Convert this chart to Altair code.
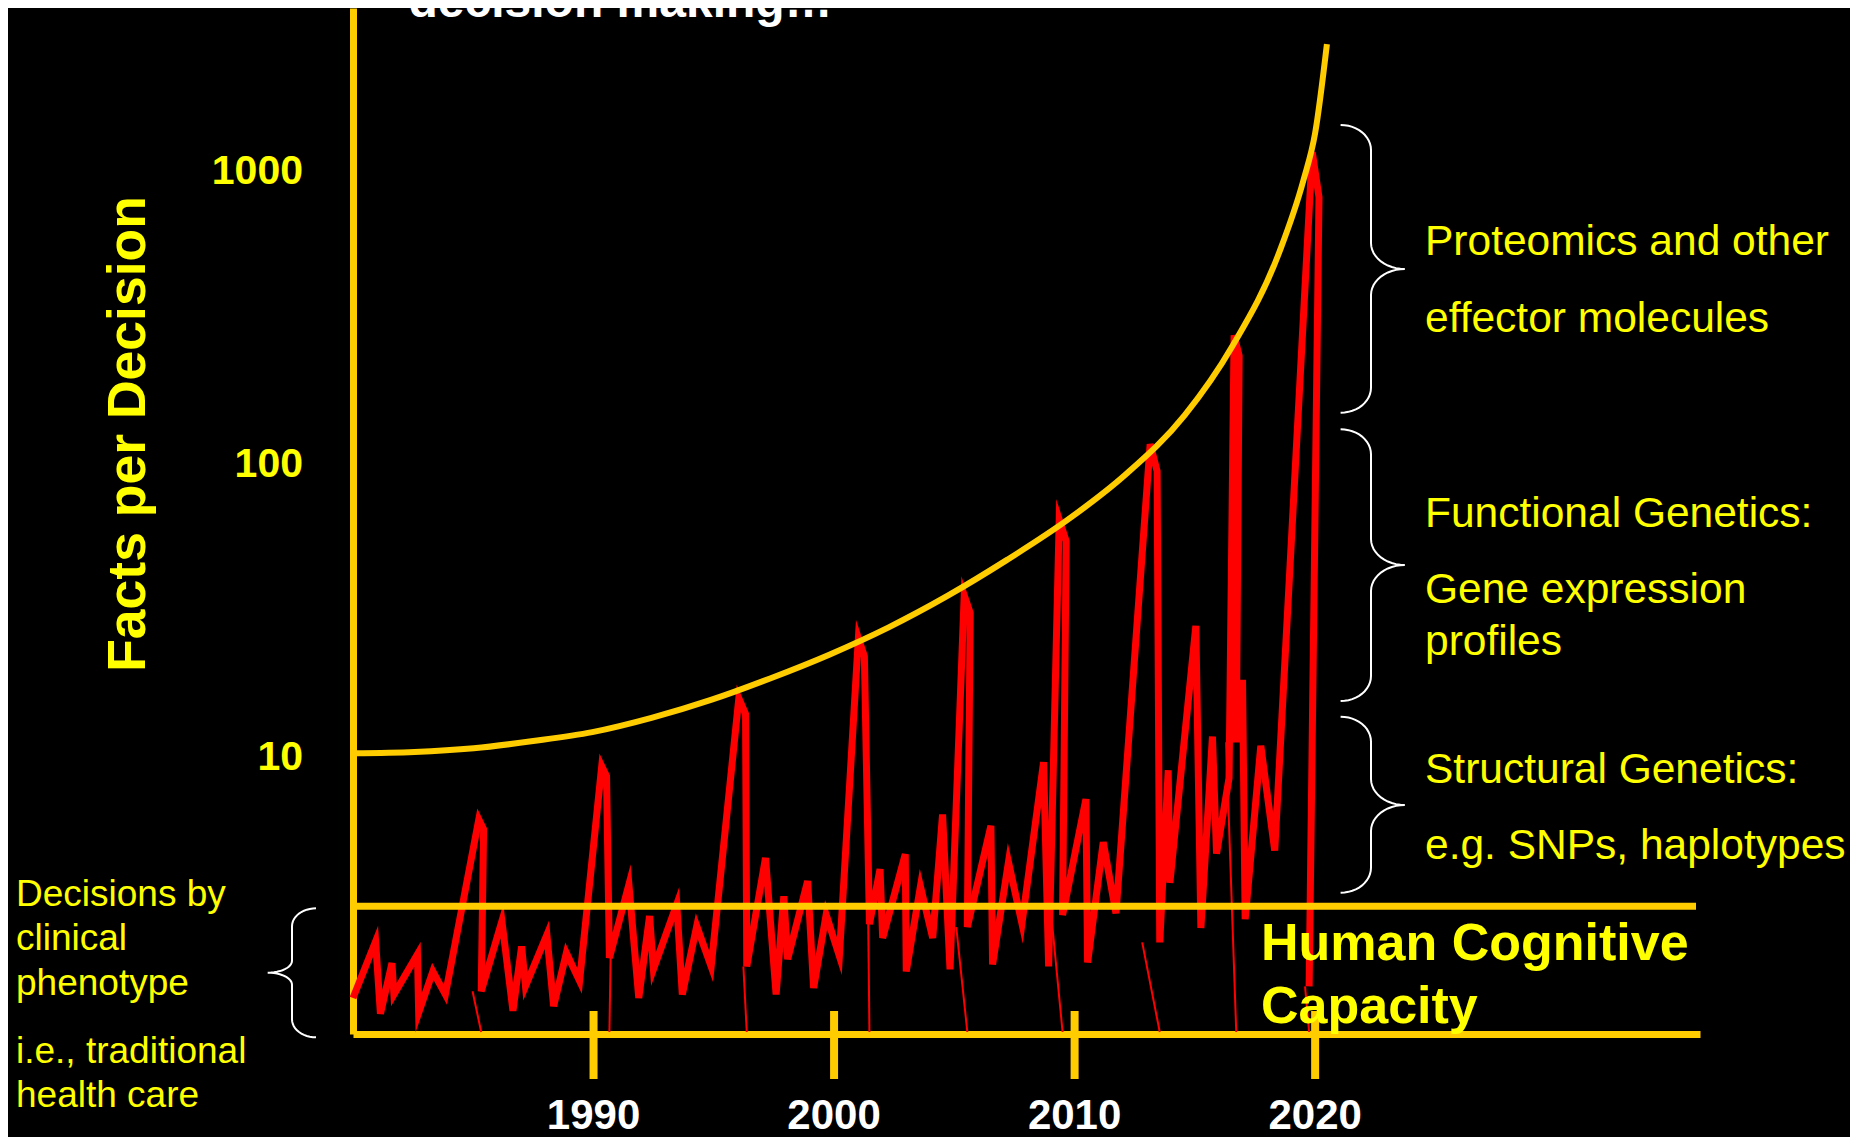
import math
import altair as alt
import pandas as pd

# ---------------- data ----------------
red_year = [1980.00, 1980.94, 1981.14, 1981.62, 1981.70, 1982.68, 1982.73, 1983.32, 1983.84,
            1985.23, 1985.43, 1985.33, 1986.19, 1986.65, 1987.01, 1987.17, 1988.06, 1988.34,
            1988.87, 1989.42, 1990.34, 1990.54, 1990.66, 1991.47, 1991.88, 1992.33, 1992.49,
            1993.46, 1993.69, 1994.29, 1994.89, 1996.04, 1996.32, 1996.37, 1997.15, 1997.59,
            1997.91, 1998.07, 1998.90, 1999.15, 1999.67, 2000.22, 2001.01, 2001.26, 2001.47,
            2001.91, 2002.02, 2002.96, 2003.00, 2003.59, 2004.10, 2004.51, 2004.82, 2005.41,
            2005.66, 2005.54, 2006.52, 2006.59, 2007.25, 2007.81, 2008.71, 2008.92, 2009.36,
            2009.65, 2009.50, 2010.47, 2010.54, 2011.19, 2011.72, 2013.14, 2013.43, 2013.54,
            2013.89, 2013.96, 2015.04, 2015.25, 2015.73, 2015.90, 2016.42, 2016.63, 2016.84,
            2016.72, 2016.98, 2017.09, 2017.74, 2018.32, 2019.88, 2020.16, 2019.75]
red_value = [1.46, 2.28, 1.29, 1.92, 1.50, 2.06, 1.30, 1.80, 1.50,
             5.94, 5.50, 1.54, 2.67, 1.32, 2.19, 1.60, 2.40, 1.37,
             2.08, 1.67, 9.03, 8.35, 2.00, 3.56, 1.46, 2.78, 1.83,
             3.05, 1.50, 2.57, 1.87, 15.4, 13.6, 1.87, 4.39, 1.50,
             3.25, 1.98, 3.66, 1.58, 2.81, 2.03, 24.7, 21.4, 2.61,
             4.02, 2.34, 4.52, 1.80, 3.51, 2.34, 6.18, 1.83, 34.6,
             30.1, 2.55, 5.65, 1.90, 4.25, 2.62, 9.32, 1.87, 62.7,
             52.9, 2.80, 6.97, 1.93, 4.97, 2.84, 113.5, 91.8, 2.26,
             8.75, 3.61, 27.2, 2.53, 11.4, 4.54, 8.22, 267, 227,
             10.9, 17.8, 2.71, 10.6, 4.65, 1127, 791, 1.6]
assert len(red_year) == len(red_value)

# thin tails of the red spikes (bottom year -> top point)
tail_bottom_year = [1984.97, 1990.71, 1996.23, 2001.42, 2005.08, 2009.03, 2012.81, 2016.30, 2019.58]
tail_top_year = [1985.33, 1990.66, 1996.37, 2001.47, 2005.54, 2009.50, 2013.54, 2016.72, 2019.75]
tail_top_value = [1.54, 2.00, 1.87, 2.61, 2.55, 2.80, 2.26, 10.9, 1.6]

# yellow "facts per decision" curve
curve_year = [1980.0, 1982.56, 1985.02, 1987.49, 1989.95, 1992.41, 1994.88, 1997.34, 1999.80,
              2002.27, 2004.73, 2007.19, 2009.66, 2012.12, 2014.58, 2016.55, 2018.52, 2019.51,
              2020.0, 2020.49]
curve_value = [10.0, 10.1, 10.4, 11.0, 11.8, 13.2, 15.2, 18.0, 21.7,
               26.9, 34.5, 45.7, 62.2, 89.4, 142.6, 244.6, 516, 902,
               1309, 2636]

capacity_level = [3.0]
tick_years = [1990, 2000, 2010, 2020]
tick_labels = ["1990", "2000", "2010", "2020"]
y_label_values = [10, 100, 1000]
y_labels = ["10", "100", "1000"]

title_top = "decision making\u2026"
y_title = "Facts per Decision"
left_lines_1 = ["Decisions by", "clinical", "phenotype"]
left_lines_2 = ["i.e., traditional", "health care"]
right_lines_1 = ["Proteomics and other", "effector molecules"]
right_lines_2a = ["Functional Genetics:"]
right_lines_2b = ["Gene expression", "profiles"]
right_lines_3 = ["Structural Genetics:", "e.g. SNPs, haplotypes"]
capacity_lines = ["Human Cognitive", "Capacity"]

# ---------------- layout / style ----------------
W, H = 1347, 1026
GOLD = "#FFCC00"
YELLOW = "#FFFF00"
RED = "#FF0000"
FONT = "Liberation Sans"

xs = alt.Scale(domain=[1980, 2036], nice=False, zero=False)
ys = alt.Scale(type="log", domain=[1.1, 3500], nice=False)

red_df = pd.DataFrame({"year": red_year, "value": red_value, "ord": list(range(len(red_year)))})
tail_df = pd.DataFrame({"y0": tail_bottom_year, "y1": tail_top_year, "v": tail_top_value})
curve_df = pd.DataFrame({"year": curve_year, "value": curve_value})
cap_df = pd.DataFrame({"v": capacity_level})
tick_df = pd.DataFrame({"year": tick_years, "label": tick_labels})
ylab_df = pd.DataFrame({"value": y_label_values, "label": y_labels})
one = pd.DataFrame({"k": [0]})

red = alt.Chart(red_df).mark_line(
    color=RED, strokeWidth=7, strokeJoin="miter", strokeMiterLimit=6
).encode(
    x=alt.X("year:Q", scale=xs, axis=alt.Axis(domain=True, domainColor=GOLD, domainWidth=7,
                                               labels=False, ticks=False, grid=False, title=None)),
    y=alt.Y("value:Q", scale=ys, axis=alt.Axis(domain=True, domainColor=GOLD, domainWidth=7,
                                                labels=False, ticks=False, grid=False, title=None)),
    order="ord:Q",
)

tails = alt.Chart(tail_df).mark_rule(color=RED, strokeWidth=2).encode(
    x=alt.X("y0:Q", scale=xs, axis=None),
    x2="y1:Q",
    y=alt.Y("v:Q", scale=ys, axis=None),
    y2=alt.value(1024),
)

curve = alt.Chart(curve_df).mark_line(color=GOLD, strokeWidth=6, interpolate="monotone").encode(
    x=alt.X("year:Q", scale=xs, axis=None),
    y=alt.Y("value:Q", scale=ys, axis=None),
)

cap_rule = alt.Chart(cap_df).mark_rule(color=GOLD, strokeWidth=7).encode(
    y=alt.Y("v:Q", scale=ys, axis=None),
    x=alt.value(0),
    x2=alt.value(W - 4),
)

ticks = alt.Chart(tick_df).mark_rule(color=GOLD, strokeWidth=8).encode(
    x=alt.X("year:Q", scale=xs, axis=None),
    y=alt.value(1003),
    y2=alt.value(1071),
)

xlabels = alt.Chart(tick_df).mark_text(
    font=FONT, fontSize=42, fontWeight="bold", color="white", baseline="alphabetic", align="center"
).encode(
    x=alt.X("year:Q", scale=xs, axis=None),
    y=alt.value(1121),
    text="label:N",
)

ylabels = alt.Chart(ylab_df).mark_text(
    font=FONT, fontSize=41, fontWeight="bold", color=YELLOW, baseline="middle", align="right", dy=5
).encode(
    x=alt.value(-50),
    y=alt.Y("value:Q", scale=ys, axis=None),
    text="label:N",
)


# braces (decoration, drawn in pixel space)
def brace_path(x_end, x_vert, x_tip, y_top, y_tip, y_bot, ry1, ry2, n=12):
    d = 1 if x_vert > x_end else -1
    rx1 = abs(x_vert - x_end)
    rx2 = abs(x_tip - x_vert)
    pts = []
    for i in range(n + 1):
        p = math.pi / 2 * i / n
        pts.append((x_end + d * rx1 * math.sin(p), y_top + ry1 - ry1 * math.cos(p)))
    for i in range(n + 1):
        p = math.pi / 2 * i / n
        pts.append((x_tip - d * rx2 * math.cos(p), y_tip - ry2 + ry2 * math.sin(p)))
    for i in range(n + 1):
        p = math.pi / 2 * i / n
        pts.append((x_tip - d * rx2 * math.sin(p), y_tip + ry2 - ry2 * math.cos(p)))
    for i in range(n + 1):
        p = math.pi / 2 * i / n
        pts.append((x_end + d * rx1 * math.cos(p), y_bot - ry1 + ry1 * math.sin(p)))
    return pts


brace_specs = [
    (987.6, 1018, 1051.8, 117, 261, 404.7, 25, 26),
    (987.6, 1018, 1051.8, 421.3, 557, 693, 25, 26),
    (987.6, 1018, 1051.8, 708.7, 797, 884.7, 25, 26),
    (-37, -61, -85.3, 900.3, 964.7, 1029.3, 18, 12),
]
rows = []
for b, spec in enumerate(brace_specs):
    for j, (px, py) in enumerate(brace_path(*spec)):
        rows.append({"b": b, "o": j, "px": px, "py": py})
brace_df = pd.DataFrame(rows)

braces = alt.Chart(brace_df).mark_line(color="white", strokeWidth=2).encode(
    x=alt.X("px:Q", scale=alt.Scale(domain=[0, W], nice=False, zero=False), axis=None),
    y=alt.Y("py:Q", scale=alt.Scale(domain=[0, H], reverse=True, nice=False, zero=False), axis=None),
    detail="b:N",
    order="o:Q",
)


def label(lines, px, py, size, color, bold=False, line_height=None, angle=None, align="left"):
    kw = dict(text=lines, font=FONT, fontSize=size, color=color, align=align, baseline="alphabetic")
    if bold:
        kw["fontWeight"] = "bold"
    if line_height:
        kw["lineHeight"] = line_height
    if angle is not None:
        kw["angle"] = angle
    return alt.Chart(one).mark_text(**kw).encode(x=alt.value(px), y=alt.value(py))


texts = [
    label(title_top, 55.5, 9.3, 48, "white", bold=True),
    label(y_title, -208, 426, 53.5, YELLOW, bold=True, angle=270, align="center"),
    label(left_lines_1, -337, 897.7, 37, YELLOW, line_height=44.7),
    label(left_lines_2, -337, 1054.7, 37, YELLOW, line_height=44.6),
    label(right_lines_1, 1072, 247, 42.5, YELLOW, line_height=76.7),
    label(right_lines_2a, 1072, 519.3, 42.5, YELLOW),
    label(right_lines_2b, 1072, 595.3, 42.5, YELLOW, line_height=51.7),
    label(right_lines_3, 1072, 775.3, 42.5, YELLOW, line_height=76),
    label(capacity_lines, 908, 952, 52, YELLOW, bold=True, line_height=63.3),
]

chart = alt.layer(
    red, tails, curve, cap_rule, ticks, xlabels, ylabels, braces, *texts
).resolve_scale(
    x="independent", y="independent"
).properties(
    width=W,
    height=H,
    autosize=alt.AutoSizeParams(type="none"),
    padding={"left": 345, "top": 0, "right": 150, "bottom": 103},
    background="#000000",
    usermeta={"embedOptions": {"defaultStyle": "body{background:#000000;overflow:hidden;}"}},
).configure_view(stroke=None)

chart.save("out.html", embed_options={"renderer": "svg", "actions": False})
